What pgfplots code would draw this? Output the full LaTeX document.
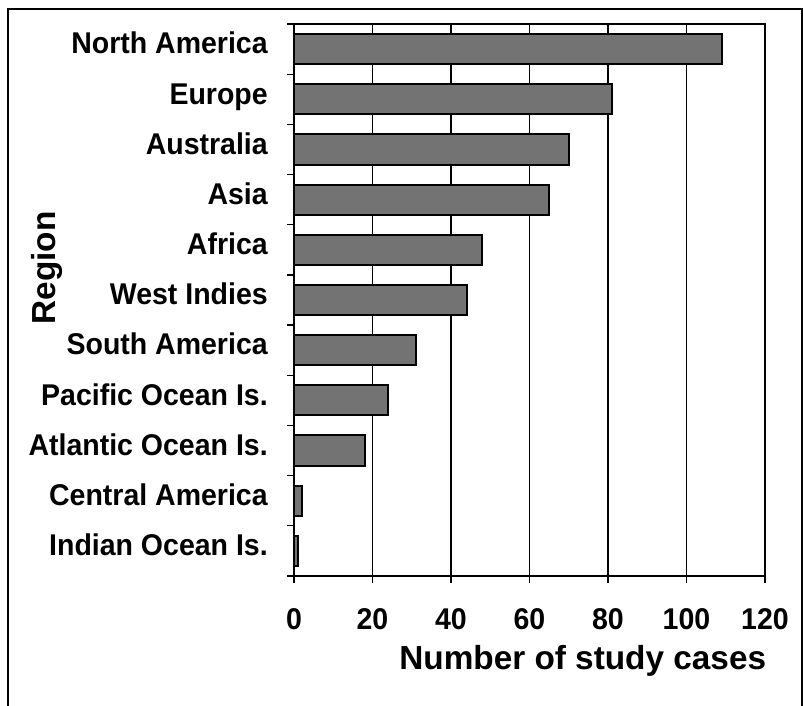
\documentclass[border=0pt]{standalone}
\usepackage{pgfplots}
\pgfplotsset{compat=1.18}
\usepackage{fontspec}
\setmainfont{Liberation Sans}
\newfontfamily\narrowfont[FakeStretch=0.95]{Liberation Sans}
\pgfplotstableread{
val idx
109 0
81 1
70 2
65 3
48 4
44 5
31 6
24 7
18 8
2 9
1 10
}\regiondata
\begin{document}
\begin{tikzpicture}
\path[use as bounding box] (0,0) rectangle (602.25pt,529.5pt);
\draw[line width=1.1pt] (6pt,0pt) -- (6pt,522.75pt) -- (601.5pt,522.75pt) -- (601.5pt,0pt);
\begin{axis}[
  at={(220.5pt,97.5pt)}, anchor=south west,
  width=353.25pt, height=414pt, scale only axis,
  xbar, bar width=0.6,
  xmin=0, xmax=120, ymin=-0.5, ymax=10.5, y dir=reverse,
  xtick={0,20,...,120},
  ytick={-0.5,0.5,...,10.5},
  yticklabels={},
  extra y ticks={0,1,...,10},
  extra y tick labels={North America,Europe,Australia,Asia,Africa,West Indies,South America,Pacific Ocean Is.,Atlantic Ocean Is.,Central America,Indian Ocean Is.},
  extra y tick style={major tick length=0pt},
  xtick pos=bottom, ytick pos=left,
  yticklabel style={font=\narrowfont\fontsize{22.5}{22.5}\selectfont\bfseries, anchor=base east, inner sep=0pt, xshift=-19.5pt, yshift=-0.358em},
  xticklabel style={font=\narrowfont\fontsize{22.5}{22.5}\selectfont\bfseries, anchor=base, inner sep=0pt, yshift=-34.75pt},
  /pgf/number format/assume math mode=true,
  tick align=outside,
  major tick length=5pt,
  tick style={black, line width=0.9pt},
  axis line style={line width=1.5pt},
  xmajorgrids=true,
  grid style={black, line width=0.8pt},
  xlabel={Number of study cases},
  ylabel={Region},
  xlabel style={font=\fontsize{25}{25}\selectfont\bfseries, at={(axis description cs:0.613,-0.170)}, anchor=base},
  ylabel style={font=\fontsize{25}{25}\selectfont\bfseries, at={(axis description cs:-0.524,0.558)}, anchor=center, rotate=0},
]
\addplot[fill=black!55, draw=black, line width=1.5pt] table[x=val, y=idx] {\regiondata};
\end{axis}
\end{tikzpicture}
\end{document}
